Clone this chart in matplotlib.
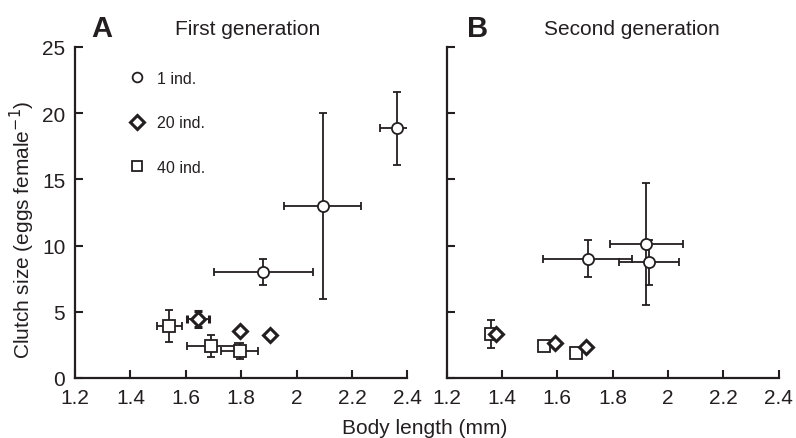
import matplotlib.pyplot as plt
from matplotlib.lines import Line2D

plt.rcParams['font.family'] = ['Liberation Sans', 'DejaVu Sans']

INK = '#231f20'

# --- first generation (panel A) ---
g1_c_x = [2.363, 2.094, 1.880]
g1_c_y = [18.85, 13.0, 8.0]
g1_c_xerr = [0.062, 0.14, 0.18]
g1_c_yerr = [2.77, 7.0, 1.0]

g1_d_x = [1.643, 1.796, 1.904]
g1_d_y = [4.45, 3.55, 3.28]
g1_d_xerr = [0.04, 0.01, 0.01]
g1_d_yerr = [0.62, 0.15, 0.15]

g1_s_x = [1.540, 1.691, 1.794]
g1_s_y = [3.95, 2.4, 2.05]
g1_s_xerr = [0.045, 0.085, 0.066]
g1_s_yerr = [1.2, 0.82, 0.6]

# --- second generation (panel B) ---
g2_c_x = [1.922, 1.932, 1.709]
g2_c_y = [10.12, 8.75, 9.0]
g2_c_xerr = [0.133, 0.109, 0.16]
g2_c_yerr = [4.6, 1.7, 1.4]

g2_d_x = [1.378, 1.591, 1.702]
g2_d_y = [3.35, 2.68, 2.37]

g2_s_x = [1.361, 1.551, 1.666]
g2_s_y = [3.3, 2.4, 1.88]
g2_s_yerr = [1.06, 0.0, 0.0]

legend_labels = ['1 ind.', '20 ind.', '40 ind.']
xticks = [1.2, 1.4, 1.6, 1.8, 2.0, 2.2, 2.4]
xticklabels = ['1.2', '1.4', '1.6', '1.8', '2', '2.2', '2.4']
yticks = [0, 5, 10, 15, 20, 25]

circ = dict(fmt='o', ms=8, mfc='white', mec=INK, mew=1.3)
diam = dict(fmt='D', ms=7.5, mfc='white', mec=INK, mew=2.2)
squa = dict(fmt='s', ms=8, mfc='white', mec=INK, mew=1.3)
err = dict(ecolor=INK, elinewidth=1.3, capsize=2.8, capthick=1.3)

fig = plt.figure(figsize=(7.96, 4.39), dpi=100)
axA = fig.add_axes([0.0942, 0.1367, 0.4177, 0.754])
axB = fig.add_axes([0.5612, 0.1367, 0.4170, 0.754])

# panel A
axA.errorbar(g1_c_x, g1_c_y, xerr=g1_c_xerr, yerr=g1_c_yerr, **circ, **err)
axA.errorbar(g1_s_x, g1_s_y, xerr=g1_s_xerr, yerr=g1_s_yerr, **squa, **err)
axA.errorbar(g1_d_x, g1_d_y, xerr=g1_d_xerr, yerr=g1_d_yerr, **diam, **err)

# panel B
axB.errorbar(g2_c_x, g2_c_y, xerr=g2_c_xerr, yerr=g2_c_yerr, **circ, **err)
axB.errorbar(g2_s_x, g2_s_y, yerr=g2_s_yerr, **squa, **err)
axB.errorbar(g2_d_x, g2_d_y, **diam, **err)

for ax in (axA, axB):
    ax.set_xlim(1.2, 2.4)
    ax.set_ylim(0, 25)
    ax.set_xticks(xticks)
    ax.set_xticklabels(xticklabels)
    ax.set_yticks(yticks)
    for s in ('top', 'right'):
        ax.spines[s].set_visible(False)
    for s in ('left', 'bottom'):
        ax.spines[s].set_linewidth(1.6)
        ax.spines[s].set_color(INK)
    ax.tick_params(direction='in', length=6, width=1.5, color=INK,
                   labelsize=15, labelcolor=INK)
    ax.tick_params(axis='x', pad=7)
    ax.tick_params(axis='y', pad=7)

axB.tick_params(axis='y', labelleft=False)

fig.text(0.0276, 0.476, 'Clutch size (eggs female$^{-1}$)', fontsize=15, color=INK,
         rotation=90, ha='center', va='center')
fig.text(0.534, 0.011, 'Body length (mm)', fontsize=15, color=INK, ha='center')

fig.text(0.128, 0.916, 'A', fontsize=21, fontweight='bold', color=INK, ha='center')
fig.text(0.311, 0.92, 'First generation', fontsize=15, color=INK, ha='center')
fig.text(0.600, 0.916, 'B', fontsize=21, fontweight='bold', color=INK, ha='center')
fig.text(0.794, 0.92, 'Second generation', fontsize=15, color=INK, ha='center')

handles = [
    Line2D([], [], ls='none', marker='o', ms=7, mfc='white', mec=INK, mew=1.3),
    Line2D([], [], ls='none', marker='D', ms=7, mfc='white', mec=INK, mew=2.2),
    Line2D([], [], ls='none', marker='s', ms=7, mfc='white', mec=INK, mew=1.3),
]
axA.legend(handles, legend_labels, loc='upper left', bbox_to_anchor=(0.118, 0.972),
           frameon=False, fontsize=11.5, labelspacing=1.85, handlelength=1.0,
           handletextpad=0.75, numpoints=1, labelcolor=INK)

fig.savefig('out.png', dpi=100)
